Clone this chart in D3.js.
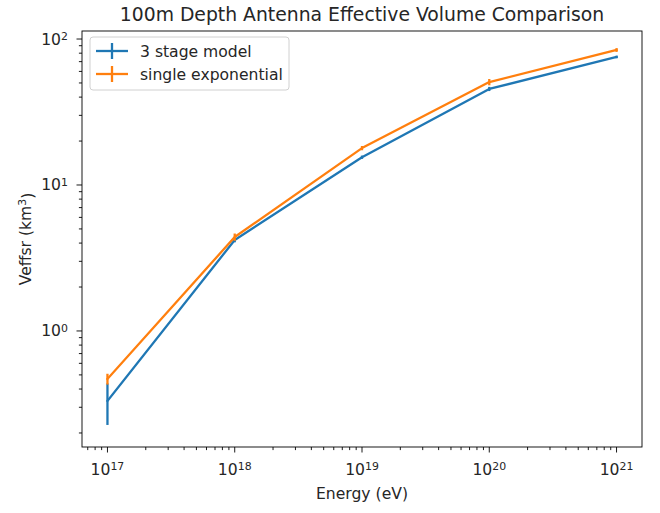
<!DOCTYPE html>
<html><head><meta charset="utf-8">
<script src="https://cdn.jsdelivr.net/npm/d3@7"></script>
<style>body{margin:0;background:#fff}svg{display:block}text{font-family:"DejaVu Sans",sans-serif;fill:#262626}</style>
</head><body>
<script>
const energies = [1e17, 1e18, 1e19, 1e20, 1e21];
const stageModel = [0.332, 4.2, 15.5, 45.5, 75.3];
const stageErr = [0.105, 0.15, 0.4, 1.5, 1.5];
const singleExp = [0.469, 4.4, 17.9, 50.7, 84.1];
const singleErr = [0.04, 0.25, 0.6, 2.5, 2.5];
const seriesNames = ["3 stage model", "single exponential"];
const xTickExps = [17, 18, 19, 20, 21];
const yTickExps = [0, 1, 2];

const W = 660, H = 513;
const m = {l: 82, r: 642, t: 31, b: 447};
const FS = 15.6, TFS = 18.8, LW = 2.3;
const svg = d3.select("body").append("svg").attr("width", W).attr("height", H);

const x = d3.scaleLog().domain([Math.pow(10,16.8), Math.pow(10,21.2)]).range([m.l, m.r]);
const y = d3.scaleLog().domain([Math.pow(10,-0.795), Math.pow(10,2.055)]).range([m.b, m.t]);

const colors = ["#1f77b4", "#ff7f0e"];
const series = [
  {name: seriesNames[0], v: stageModel, e: stageErr, c: colors[0]},
  {name: seriesNames[1], v: singleExp, e: singleErr, c: colors[1]}
];

svg.append("clipPath").attr("id","c").append("rect")
  .attr("x", m.l).attr("y", m.t).attr("width", m.r-m.l).attr("height", m.b-m.t);
const plot = svg.append("g").attr("clip-path","url(#c)");

const line = d3.line().x(d=>x(d[0])).y(d=>y(d[1]));
series.forEach(s => {
  const g = plot.append("g");
  s.v.forEach((v,i)=>{
    g.append("line").attr("x1", x(energies[i])).attr("x2", x(energies[i]))
      .attr("y1", y(v - s.e[i])).attr("y2", y(v + s.e[i]))
      .attr("stroke", s.c).attr("stroke-width", LW);
  });
  g.append("path").datum(energies.map((e,i)=>[e, s.v[i]]))
    .attr("d", line).attr("fill","none").attr("stroke", s.c).attr("stroke-width", LW)
    .attr("stroke-linejoin","round").attr("stroke-linecap","square");
});

function supLabel(sel, exp){
  sel.text(null);
  sel.append("tspan").text("10");
  sel.append("tspan").attr("dy", "-0.45em").attr("font-size","70%").text(exp);
}
const xAxisG = svg.append("g").attr("transform", `translate(0,${m.b})`);
const xMinor = [];
for (let e=16; e<=21; e++) for (let k=2;k<=9;k++){ const v=k*Math.pow(10,e); if (v>x.domain()[0] && v<x.domain()[1]) xMinor.push(v); }
xAxisG.selectAll("line.minor").data(xMinor).enter().append("line")
  .attr("x1", d=>x(d)).attr("x2", d=>x(d)).attr("y1",0).attr("y2",3.1)
  .attr("stroke","#000").attr("stroke-width",0.9);
xAxisG.selectAll("line.major").data(xTickExps).enter().append("line")
  .attr("x1", d=>x(Math.pow(10,d))).attr("x2", d=>x(Math.pow(10,d))).attr("y1",0).attr("y2",5.5)
  .attr("stroke","#000").attr("stroke-width",0.9);
xAxisG.selectAll("text").data(xTickExps).enter().append("text")
  .attr("x", d=>x(Math.pow(10,d))).attr("y", 28).attr("text-anchor","middle")
  .attr("font-size", FS).each(function(d){ supLabel(d3.select(this), d); });

const yAxisG = svg.append("g").attr("transform", `translate(${m.l},0)`);
const yMinor = [];
for (let e=-1; e<=2; e++) for (let k=2;k<=9;k++){ const v=k*Math.pow(10,e); if (v>y.domain()[0] && v<y.domain()[1]) yMinor.push(v); }
yAxisG.selectAll("line.minor").data(yMinor).enter().append("line")
  .attr("y1", d=>y(d)).attr("y2", d=>y(d)).attr("x1",0).attr("x2",-3.1)
  .attr("stroke","#000").attr("stroke-width",0.9);
yAxisG.selectAll("line.major").data(yTickExps).enter().append("line")
  .attr("y1", d=>y(Math.pow(10,d))).attr("y2", d=>y(Math.pow(10,d))).attr("x1",0).attr("x2",-5.5)
  .attr("stroke","#000").attr("stroke-width",0.9);
yAxisG.selectAll("text").data(yTickExps).enter().append("text")
  .attr("x", -14).attr("y", d=>y(Math.pow(10,d))+5.5).attr("text-anchor","end")
  .attr("font-size", FS).each(function(d){ supLabel(d3.select(this), d); });

svg.append("rect").attr("x", m.l).attr("y", m.t).attr("width", m.r-m.l).attr("height", m.b-m.t)
  .attr("fill","none").attr("stroke","#000").attr("stroke-width",0.9);

svg.append("text").attr("x", (m.l+m.r)/2).attr("y", 21).attr("text-anchor","middle")
  .attr("font-size", TFS).text("100m Depth Antenna Effective Volume Comparison");
svg.append("text").attr("x", (m.l+m.r)/2).attr("y", 499).attr("text-anchor","middle")
  .attr("font-size", FS).text("Energy (eV)");
const yl = svg.append("text").attr("transform", `translate(31,${(m.t+m.b)/2}) rotate(-90)`)
  .attr("text-anchor","middle").attr("font-size", FS);
yl.append("tspan").text("Veffsr (km");
yl.append("tspan").attr("dy","-0.45em").attr("font-size","70%").text("3");
yl.append("tspan").attr("dy","0.45em").text(")");

const lg = svg.append("g");
lg.append("rect").attr("x", 90).attr("y", 37).attr("width", 199).attr("height", 53)
  .attr("rx", 3).attr("fill","#fff").attr("fill-opacity",0.8).attr("stroke","#d0d0d0").attr("stroke-width",1);
series.forEach((s,i)=>{
  const yy = 51 + i*23;
  lg.append("line").attr("x1", 96).attr("x2", 128).attr("y1", yy).attr("y2", yy)
    .attr("stroke", s.c).attr("stroke-width", LW);
  lg.append("line").attr("x1", 112).attr("x2", 112).attr("y1", yy-8).attr("y2", yy+8)
    .attr("stroke", s.c).attr("stroke-width", LW);
  lg.append("text").attr("x", 140).attr("y", yy+5.5).attr("font-size", FS).text(s.name);
});
</script>
</body></html>
